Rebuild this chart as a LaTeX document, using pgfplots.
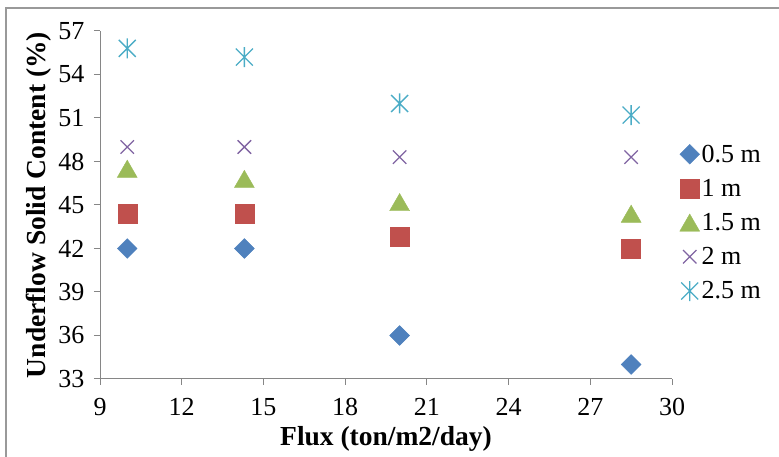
\documentclass[border=0pt]{standalone}
\usepackage{fontspec}
\setmainfont{Liberation Serif}
\usepackage{pgfplots}
\pgfplotsset{compat=1.18}
\definecolor{cA}{HTML}{4F81BD}
\definecolor{cB}{HTML}{C0504D}
\definecolor{cC}{HTML}{9BBB59}
\definecolor{cD}{HTML}{8064A2}
\definecolor{cE}{HTML}{4BACC6}
\definecolor{axgray}{HTML}{868686}
\pgfdeclareplotmark{xast}{%
  \pgfpathmoveto{\pgfqpoint{0pt}{\pgfplotmarksize}}%
  \pgfpathlineto{\pgfqpoint{0pt}{-\pgfplotmarksize}}%
  \pgfpathmoveto{\pgfqpoint{-.85\pgfplotmarksize}{-.85\pgfplotmarksize}}%
  \pgfpathlineto{\pgfqpoint{.85\pgfplotmarksize}{.85\pgfplotmarksize}}%
  \pgfpathmoveto{\pgfqpoint{-.85\pgfplotmarksize}{.85\pgfplotmarksize}}%
  \pgfpathlineto{\pgfqpoint{.85\pgfplotmarksize}{-.85\pgfplotmarksize}}%
  \pgfusepathqstroke}
\begin{document}
\begin{tikzpicture}
\useasboundingbox (0,0) rectangle (779pt,457pt);
\draw[draw=gray!80, line width=1.3pt] (6pt,0) -- (6pt,449pt) -- (779pt,449pt);
\begin{axis}[
  at={(100pt,78pt)}, anchor=south west,
  scale only axis, width=572pt, height=348pt,
  xmin=9, xmax=30, ymin=33, ymax=57,
  xtick={9,12,...,30}, ytick={33,36,...,57},
  axis x line*=bottom, axis y line*=left,
  axis line style={draw=axgray, line width=1pt, -},
  tick style={draw=axgray, line width=1pt},
  tick align=outside, major tick length=6pt,
  /pgf/number format/assume math mode=true,
  ticklabel style={font=\fontsize{26}{26}\selectfont},
  xticklabel style={yshift=-10pt},
  yticklabel style={xshift=-6pt},
  xlabel={\textbf{Flux (ton/m2/day)}},
  ylabel={\textbf{Underflow Solid Content (\%)}},
  label style={font=\fontsize{27.5}{27.5}\selectfont},
  xlabel style={at={(axis description cs:0.5,0)}, anchor=center, yshift=-60pt},
  ylabel style={at={(axis description cs:0,0.5)}, anchor=center, yshift=61pt},
  clip=false,
  legend style={at={(1.008,0.685)}, anchor=north west, draw=none, fill=none,
    font=\fontsize{26}{26}\selectfont, row sep=11.5pt},
  legend cell align=left,
]
\addplot[only marks, mark=square*, mark size=7pt, mark options={rotate=45, draw=cA, fill=cA}] coordinates {(10,42) (14.3,42) (20,36) (28.5,34)};
\addlegendentry{0.5 m}
\addplot[only marks, mark=square*, mark size=9.5pt, mark options={draw=cB, fill=cB}] coordinates {(10,44.4) (14.3,44.4) (20,42.8) (28.5,42)};
\addlegendentry{1 m}
\addplot[only marks, mark=triangle*, mark size=11.5pt, mark options={draw=cC, fill=cC, yshift=-2.9pt}] coordinates {(10,47.5) (14.3,46.8) (20,45.2) (28.5,44.4)};
\addlegendentry{1.5 m}
\addplot[only marks, mark=x, mark size=9.5pt, mark options={draw=cD, line width=1.3pt}] coordinates {(10,49) (14.3,49) (20,48.3) (28.5,48.3)};
\addlegendentry{2 m}
\addplot[only marks, mark=xast, mark size=10pt, mark options={draw=cE, line width=1.3pt}] coordinates {(10,55.8) (14.3,55.2) (20,52) (28.5,51.2)};
\addlegendentry{2.5 m}
\end{axis}
\end{tikzpicture}
\end{document}
